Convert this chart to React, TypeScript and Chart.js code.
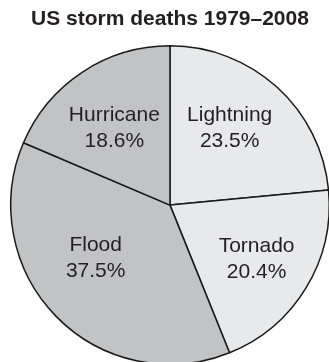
import React, { useEffect, useRef } from "react";
import { Chart, registerables } from "chart.js";

Chart.register(...registerables);

const categories = ["Lightning", "Tornado", "Flood", "Hurricane"];
const percentages = [23.5, 20.4, 37.5, 18.6];
const sliceColors = ["#e8e9ea", "#e8e9ea", "#c2c3c5", "#c2c3c5"];
const titleText = "US storm deaths 1979\u20132008";
// label placement nudges (degrees) and radial fraction per slice
const labelAngleNudge = [-4.4, 0.5, 8.7, -2.5];
const labelRadiusFrac = [0.61, 0.64, 0.575, 0.595];

const labelPlugin = {
  id: "sliceLabels",
  afterDatasetsDraw(chart: any) {
    const ctx = chart.ctx;
    const meta = chart.getDatasetMeta(0);
    ctx.save();
    ctx.font = '21px "Liberation Sans", Arial, sans-serif';
    ctx.fillStyle = "#231f20";
    ctx.textAlign = "center";
    ctx.textBaseline = "middle";
    meta.data.forEach((arc: any, i: number) => {
      const p = arc.getProps(["x", "y", "startAngle", "endAngle", "outerRadius"], true);
      const mid = (p.startAngle + p.endAngle) / 2 + (labelAngleNudge[i] * Math.PI) / 180;
      const r = p.outerRadius * labelRadiusFrac[i];
      const cx = p.x + Math.cos(mid) * r;
      const cy = p.y + Math.sin(mid) * r;
      ctx.fillText(categories[i], cx, cy - 13);
      ctx.fillText(percentages[i].toFixed(1) + "%", cx, cy + 13);
    });
    ctx.restore();
  },
};

export default function App() {
  const ref = useRef<HTMLCanvasElement>(null);
  useEffect(() => {
    if (!ref.current) return;
    const chart = new Chart(ref.current, {
      type: "pie",
      data: {
        labels: categories,
        datasets: [
          {
            data: percentages,
            backgroundColor: sliceColors,
            borderColor: "#1a1a1a",
            borderWidth: 1.5,
          },
        ],
      },
      options: {
        responsive: false,
        animation: false,
        layout: { padding: { left: 10, right: 10, top: 0, bottom: 6 } },
        plugins: {
          legend: { display: false },
          tooltip: { enabled: false },
          title: {
            display: true,
            text: titleText,
            color: "#231f20",
            font: { family: '"Liberation Sans", Arial, sans-serif', size: 21, weight: "bold" },
            padding: { top: 7, bottom: 12 },
          },
        },
      },
      plugins: [labelPlugin],
    });
    return () => chart.destroy();
  }, []);
  return (
    <div
      style={{
        position: "fixed",
        left: 0,
        top: 0,
        width: 329,
        height: 362,
        overflow: "hidden",
        background: "#fff",
      }}
    >
      <canvas ref={ref} width={340} height={372} style={{ display: "block" }} />
    </div>
  );
}
